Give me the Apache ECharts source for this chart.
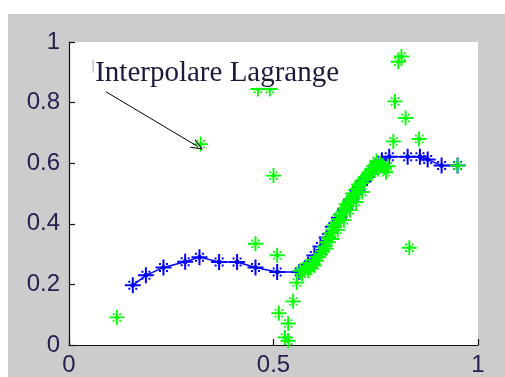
<!DOCTYPE html>
<html><head><meta charset="utf-8">
<script src="https://cdn.jsdelivr.net/npm/echarts@6/dist/echarts.min.js"></script>
<style>
html,body{margin:0;padding:0;background:#fff;}
#bg{position:absolute;left:8px;top:14px;width:497px;height:363px;background:#cccccc;}
#c{position:absolute;left:0;top:0;width:505px;height:377px;}
</style></head><body><div id="bg"></div><div id="c"></div>
<script>
// Blue interpolation curve (x, y)
const blueX = [0.156,0.188,0.231,0.284,0.319,0.367,0.411,0.456,0.509,0.563,
               0.585,0.600,0.615,0.630,0.645,0.660,0.675,0.690,0.705,0.720,0.735,0.750,0.765,
               0.783,0.828,0.858,0.877,0.911,0.950];
const blueY = [0.197,0.230,0.256,0.275,0.290,0.274,0.274,0.256,0.241,0.241,
               0.265,0.295,0.325,0.355,0.390,0.420,0.450,0.480,0.510,0.540,0.565,0.590,0.610,
               0.621,0.621,0.621,0.612,0.592,0.592];
// Green data points (x, y)
const greenX = [0.117,0.322,0.462,0.491,0.456,0.509,0.500,0.813,0.805,0.797,0.823,0.793,0.856,0.950,0.832,
                0.513,0.536,0.548,0.557,0.528,0.536,
                0.565,0.575,0.580,0.590,0.595,0.600,0.610,0.615,0.620,0.625,0.630,0.635,0.640,0.645,
                0.650,0.655,0.660,0.665,0.670,0.675,0.680,0.685,0.690,0.695,0.700,0.705,0.710,0.715,
                0.720,0.730,0.735,0.740,0.745,0.750,0.760,0.770,0.775,0.780,
                0.570,0.585,0.600,0.605,0.628,0.642,0.657,0.672,0.687,0.702,0.717,0.648,0.663,0.678,
                0.693,0.708,0.740,0.755,0.765,0.752,0.725];
const greenY = [0.091,0.663,0.845,0.845,0.334,0.296,0.559,0.952,0.935,0.804,0.749,0.672,0.680,0.592,0.321,
                0.105,0.071,0.144,0.206,0.025,0.014,
                0.245,0.250,0.260,0.255,0.270,0.280,0.290,0.300,0.310,0.325,0.340,0.355,0.370,0.380,
                0.390,0.405,0.415,0.430,0.440,0.450,0.460,0.470,0.480,0.490,0.500,0.515,0.525,0.535,
                0.545,0.560,0.570,0.580,0.590,0.595,0.600,0.585,0.570,0.590,
                0.235,0.245,0.262,0.278,0.318,0.350,0.380,0.412,0.445,0.472,0.505,0.395,0.430,0.465,
                0.500,0.530,0.565,0.580,0.592,0.607,0.555];
const xTicks = {min:0, max:1, interval:0.5};
const yTicks = {min:0, max:1, interval:0.2};
const annoText = 'Interpolare Lagrange';
const annoAt = [0.064, 0.852];
const arrowFrom = [0.090, 0.836];
const arrowTo = [0.315, 0.655];

const star = 'path://M14,0H18V32H14Z M0,14H32V18H0Z M7,7H11V11H7Z M21,7H25V11H21Z M7,21H11V25H7Z M21,21H25V25H21Z M12,12H20V20H12Z';
const chevron = 'path://M5,0 L10,12 L8.8,12 L5,2.5 L1.2,12 L0,12 Z';
const labelColor = '#262050';

const chart = echarts.init(document.getElementById('c'), null, {renderer:'canvas'});
const axisCommon = {
  type:'value',
  axisLine:{show:true, onZero:false, lineStyle:{color:'#111', width:1.2}},
  axisTick:{show:true, inside:true, length:6, lineStyle:{color:'#111', width:1.2}},
  splitLine:{show:false},
  axisLabel:{fontSize:24, fontFamily:'Liberation Sans, Arial, sans-serif', color:labelColor}
};
chart.setOption({
  animation:false,
  backgroundColor:'transparent',
  grid:{left:69, top:42, right:27, bottom:31, show:true, backgroundColor:'#ffffff', borderWidth:0},
  xAxis:Object.assign({}, axisCommon, xTicks, {axisLabel:Object.assign({}, axisCommon.axisLabel, {margin:8})}),
  yAxis:Object.assign({}, axisCommon, yTicks, {axisLabel:Object.assign({}, axisCommon.axisLabel, {margin:9})}),
  series:[
    {type:'line', data:blueX.map((x,i)=>[x,blueY[i]]), symbol:star, symbolSize:16, showAllSymbol:true,
     clip:false, z:2, itemStyle:{color:'#0000ff'}, lineStyle:{color:'#0000ff', width:1.5}},
    {type:'scatter', data:greenX.map((x,i)=>[x,greenY[i]]), symbol:star, symbolSize:15,
     clip:false, z:3, itemStyle:{color:'#00ff00', opacity:1},
     markLine:{silent:true, symbol:['none', chevron], symbolSize:[10,12],
       lineStyle:{color:'#000', width:1, type:'solid'}, label:{show:false},
       data:[[{coord:arrowFrom},{coord:arrowTo}]]}}
  ]
});
const p = chart.convertToPixel({gridIndex:0}, annoAt);
chart.setOption({
  graphic:[
    {type:'text', z:100, x:p[0], y:p[1]+1,
     style:{text:annoText, font:'29px "Liberation Serif", "Times New Roman", serif', fill:'#1c1a3a',
            align:'left', verticalAlign:'bottom', backgroundColor:'#fff', padding:[0,2,0,0]}},
    {type:'line', z:101, shape:{x1:p[0]-2, y1:p[1]-27, x2:p[0]-2, y2:p[1]-14}, style:{stroke:'#aaa', lineWidth:1}}
  ]
});
</script></body></html>
